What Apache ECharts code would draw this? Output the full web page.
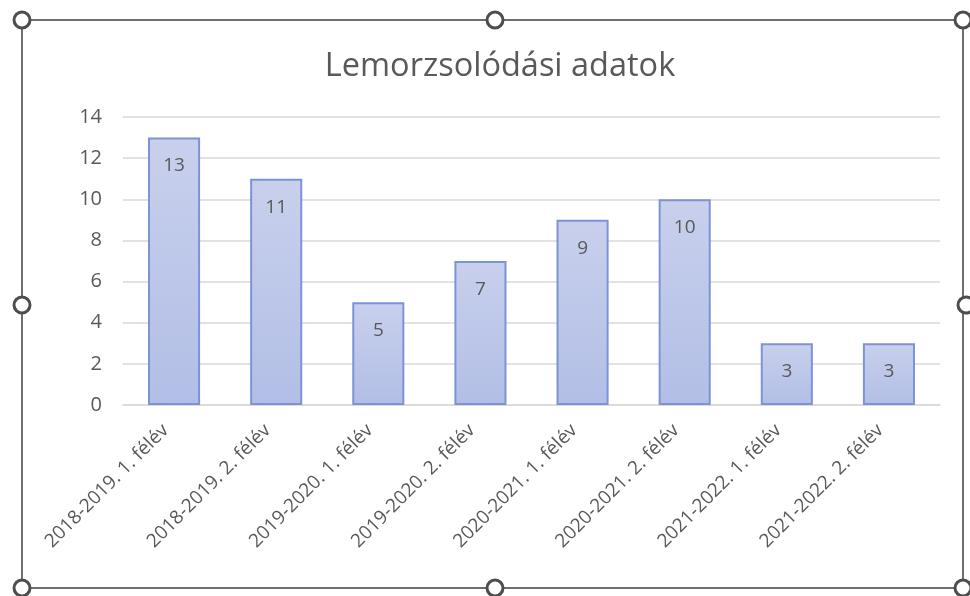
<!DOCTYPE html>
<html><head><meta charset="utf-8">
<script src="https://cdn.jsdelivr.net/npm/echarts@6/dist/echarts.min.js"></script>
<style>html,body{margin:0;padding:0;background:#fff}#c{width:970px;height:596px}</style>
</head><body><div id="c"></div>
<script>
var categories = ["2018-2019. 1. félév","2018-2019. 2. félév","2019-2020. 1. félév","2019-2020. 2. félév","2020-2021. 1. félév","2020-2021. 2. félév","2021-2022. 1. félév","2021-2022. 2. félév"];
var values = [13, 11, 5, 7, 9, 10, 3, 3];
var titleText = "Lemorzsolódási adatok";

var chart = echarts.init(document.getElementById('c'));
var FONT = "'Open Sans', sans-serif";
var handles = [[22,20],[495,20],[963,20],[22,305],[966,305],[22,588],[495,588],[963,588]];
var graphics = [
  {type:'rect', shape:{x:22,y:20,width:941,height:568}, style:{fill:'none', stroke:'#6e6e6e', lineWidth:2}, z:10}
];
handles.forEach(function(h){
  graphics.push({type:'circle', shape:{cx:h[0], cy:h[1], r:8}, style:{fill:'#fff', stroke:'#4d4d4d', lineWidth:3}, z:11});
});
chart.setOption({
  animation:false,
  title:{text:titleText, left:495, top:45, textAlign:'center',
    textStyle:{fontFamily:FONT, fontSize:32.5, fontWeight:'normal', color:'#595959'}},
  grid:{left:123, right:30, top:117, bottom:191, containLabel:false},
  xAxis:{type:'category', data:categories,
    axisLine:{lineStyle:{color:'#d9d9d9', width:1.5}}, axisTick:{show:false},
    axisLabel:{rotate:45, fontFamily:FONT, fontSize:19, color:'#595959', margin:14, interval:0, padding:[0,12,0,0]}},
  yAxis:{type:'value', min:0, max:14, interval:2,
    axisLine:{show:false}, axisTick:{show:false},
    splitLine:{lineStyle:{color:'#d9d9d9', width:1.5}},
    axisLabel:{fontFamily:FONT, fontSize:20, color:'#595959', margin:21}},
  series:[{type:'bar', data:values, barWidth:'51%',
    itemStyle:{color:new echarts.graphic.LinearGradient(0,0,0,1,[{offset:0,color:'#c8d0ec'},{offset:1,color:'#b2bee6'}]),
      borderColor:'#7e93d5', borderWidth:2},
    label:{show:true, position:'insideTop', distance:19, fontFamily:FONT, fontSize:19, color:'#595959'}}],
  graphic:graphics
});
</script></body></html>
